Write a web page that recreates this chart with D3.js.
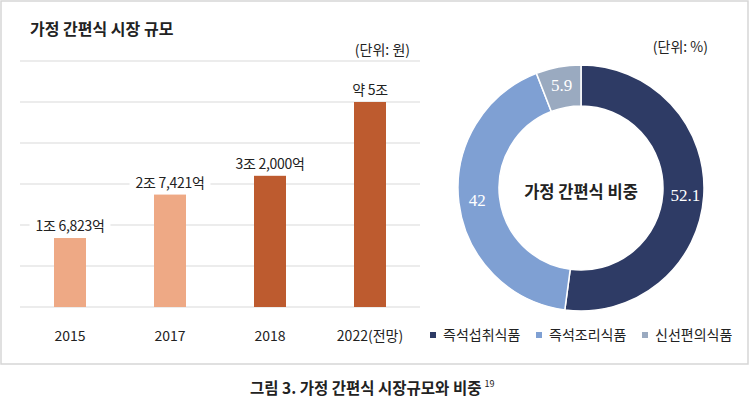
<!DOCTYPE html>
<html>
<head>
<meta charset="utf-8">
<script src="https://cdn.jsdelivr.net/npm/d3@7"></script>
<style>
  body { margin: 0; background: #fff; }
  svg text { font-family: "Noto Sans CJK KR", "Noto Sans", sans-serif; fill: #222; }
</style>
</head>
<body>
<svg id="chart" width="750" height="397"></svg>
<script>
// bar chart data (unit: 조 원)
const years = ['2015', '2017', '2018', '2022(전망)'];
const marketSize = [1.6823, 2.7421, 3.2, 5];
const sizeLabels = ['1조 6,823억', '2조 7,421억', '3조 2,000억', '약 5조'];
const barColors = ['#eea985', '#eea985', '#bd5b2f', '#bd5b2f'];
const gridTicks = [0, 1, 2, 3, 4, 5, 6];

// donut data (unit: %)
const categories = ['즉석섭취식품', '즉석조리식품', '신선편의식품'];
const shares = [52.1, 42, 5.9];
const shareColors = ['#2e3b65', '#7fa0d3', '#9aaac0'];

const svg = d3.select('#chart');

// outer frame
svg.append('rect')
  .attr('x', 1).attr('y', 1)
  .attr('width', 747).attr('height', 363)
  .attr('fill', 'none')
  .attr('stroke', '#d6d6d6')
  .attr('stroke-width', 1.5);

/* BAR CHART */
const x = d3.scaleBand()
  .domain(years)
  .range([20, 420])
  .paddingInner(0.68)
  .paddingOuter(0.34);

const y = d3.scaleLinear().domain([0, 6]).range([307, 61]);

svg.append('text')
  .attr('x', 30).attr('y', 35)
  .attr('font-size', '16px')
  .attr('font-weight', 700)
  .text('가정 간편식 시장 규모');

svg.append('text')
  .attr('x', 410).attr('y', 55)
  .attr('text-anchor', 'end')
  .attr('font-size', '14px')
  .text('(단위: 원)');

svg.append('g')
  .selectAll('line')
  .data(gridTicks)
  .join('line')
    .attr('x1', 20).attr('x2', 420)
    .attr('y1', d => y(d)).attr('y2', d => y(d))
    .attr('stroke', '#d9d9d9')
    .attr('stroke-width', 1.2);

svg.append('g')
  .selectAll('rect')
  .data(marketSize)
  .join('rect')
    .attr('x', (d, i) => x(years[i]))
    .attr('y', d => y(d))
    .attr('width', x.bandwidth())
    .attr('height', d => y(0) - y(d))
    .attr('fill', (d, i) => barColors[i]);

const labels = svg.append('g')
  .selectAll('g')
  .data(marketSize)
  .join('g')
    .attr('transform', (d, i) => `translate(${x(years[i]) + x.bandwidth() / 2},${y(d) - 7})`);

labels.append('rect').attr('fill', '#fff');
labels.append('text')
  .attr('text-anchor', 'middle')
  .attr('font-size', '14px')
  .attr('letter-spacing', '-0.3px')
  .text((d, i) => sizeLabels[i]);

// white box behind each label so the grid line breaks around it
labels.each(function () {
  const bb = d3.select(this).select('text').node().getBBox();
  d3.select(this).select('rect')
    .attr('x', bb.x - 6).attr('y', bb.y)
    .attr('width', bb.width + 12).attr('height', bb.height);
});

svg.append('g')
  .attr('transform', 'translate(0,307)')
  .call(d3.axisBottom(x).tickSize(0).tickPadding(24))
  .call(g => g.select('.domain').remove())
  .selectAll('text')
    .attr('font-size', '14px')
    .attr('fill', '#222')
    .attr('font-family', '"Noto Sans CJK KR", sans-serif');

/* DONUT CHART */
const cx = 581, cy = 188;
const pie = d3.pie().sort(null).value(d => d);
const arc = d3.arc().innerRadius(82).outerRadius(123);
const labelArc = d3.arc().innerRadius(86).outerRadius(123);
const arcs = pie(shares);

svg.append('text')
  .attr('x', 708).attr('y', 52)
  .attr('text-anchor', 'end')
  .attr('font-size', '14px')
  .text('(단위: %)');

const donut = svg.append('g').attr('transform', `translate(${cx},${cy})`);

donut.selectAll('path')
  .data(arcs)
  .join('path')
    .attr('d', arc)
    .attr('fill', (d, i) => shareColors[i])
    .attr('stroke', '#fff')
    .attr('stroke-width', 1.5);

donut.selectAll('text.share')
  .data(arcs)
  .join('text')
    .attr('class', 'share')
    .attr('transform', d => `translate(${labelArc.centroid(d)})`)
    .attr('text-anchor', 'middle')
    .attr('dy', '0.35em')
    .attr('font-size', '17px')
    .style('font-family', '"Liberation Serif", "DejaVu Serif", serif')
    .style('fill', '#fff')
    .text(d => d.data);

donut.append('text')
  .attr('text-anchor', 'middle')
  .attr('y', 10)
  .attr('font-size', '16.5px')
  .attr('font-weight', 700)
  .text('가정 간편식 비중');

// legend
const legendX = [430, 536, 642];
const legend = svg.append('g')
  .selectAll('g')
  .data(categories)
  .join('g')
    .attr('transform', (d, i) => `translate(${legendX[i]},335)`);

legend.append('rect')
  .attr('x', 0).attr('y', -3)
  .attr('width', 6).attr('height', 6)
  .attr('fill', (d, i) => shareColors[i]);

legend.append('text')
  .attr('x', 13).attr('y', 5)
  .attr('font-size', '14px')
  .text(d => d);

/* CAPTION */
const caption = svg.append('text')
  .attr('x', 250).attr('y', 394)
  .attr('font-size', '15.5px')
  .attr('font-weight', 700);
caption.append('tspan').text('그림 3. 가정 간편식 시장규모와 비중');
caption.append('tspan')
  .attr('dx', 3).attr('dy', -7)
  .attr('font-size', '9px')
  .attr('font-weight', 400)
  .text('19');
</script>
</body>
</html>
